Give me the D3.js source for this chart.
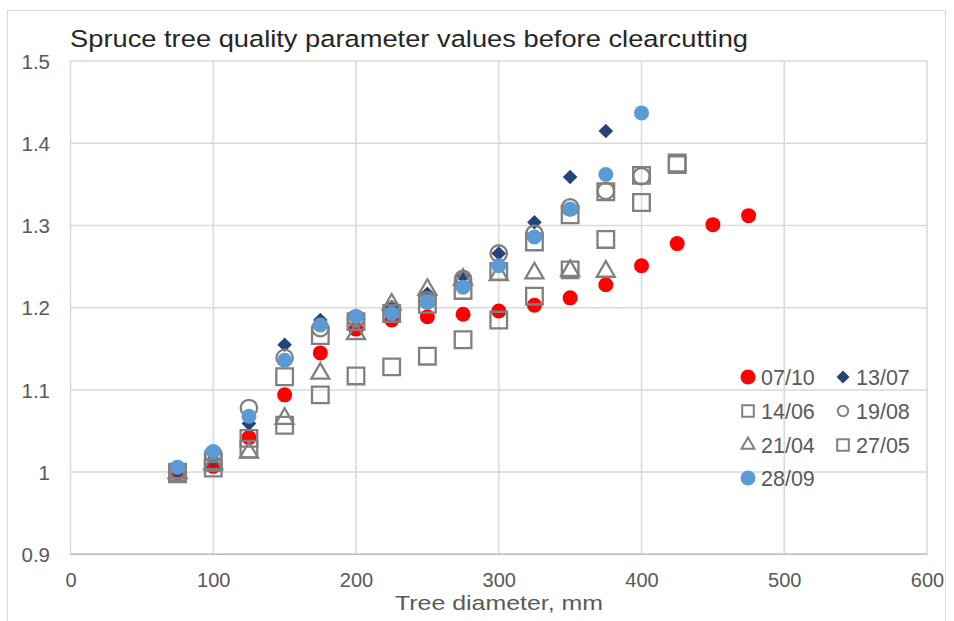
<!DOCTYPE html>
<html><head><meta charset="utf-8">
<script src="https://cdn.jsdelivr.net/npm/d3@7"></script>
<style>
body{margin:0;background:#fff;}
svg{display:block;font-family:"Liberation Sans",Arial,sans-serif;}
</style></head>
<body><svg id="c" width="954" height="621"></svg>
<script>
const diameters = [75,100,125,150,175,200,225,250,275,300,325,350,375,400,425,450,475];
const s0710 = [0.999,1.007,1.042,1.094,1.145,1.174,1.185,1.189,1.192,1.196,1.203,1.212,1.228,1.251,1.278,1.301,1.312];
const s1307 = [1.001,1.015,1.059,1.155,1.185,1.190,1.201,1.217,1.238,1.266,1.304,1.359,1.415];
const s1406 = [1.000,1.012,1.041,1.116,1.166,1.183,1.193,1.204,1.221,1.244,1.280,1.313,1.341,1.361,1.374];
const s1908 = [1.002,1.022,1.078,1.139,1.175,1.187,1.197,1.209,1.235,1.266,1.290,1.322,1.342,1.360];
const s2104 = [0.999,1.010,1.024,1.065,1.120,1.168,1.204,1.222,1.234,1.240,1.242,1.245,1.244];
const s2705 = [0.998,1.005,1.028,1.057,1.094,1.117,1.128,1.141,1.161,1.185,1.214,1.246,1.283,1.328,1.376];
const s2809 = [1.006,1.025,1.068,1.136,1.179,1.189,1.193,1.207,1.225,1.251,1.286,1.320,1.362,1.437];
const seriesNames = ["07/10","13/07","14/06","19/08","21/04","27/05","28/09"];
const xTicks = [0,100,200,300,400,500,600];
const yTicks = [0.9,1.0,1.1,1.2,1.3,1.4,1.5];
const yTickLabels = ["0.9","1","1.1","1.2","1.3","1.4","1.5"];
const titleText = "Spruce tree quality parameter values before clearcutting";
const xTitle = "Tree diameter, mm";

const gray = "#808080";
const styles = [
  {type:"circle", fill:"#ff0000", stroke:"none", size:7.5, lsize:7.5},
  {type:"diamond", fill:"#264478", stroke:"none", size:7.3, lsize:6.5},
  {type:"square", fill:"none", stroke:gray, size:8.3, lsize:5.8},
  {type:"circle", fill:"none", stroke:gray, size:8.2, lsize:5.2},
  {type:"triangle", fill:"none", stroke:gray, size:9, lsize:6.5},
  {type:"square", fill:"none", stroke:gray, size:8.3, lsize:5.8},
  {type:"circle", fill:"#5b9bd5", stroke:"none", size:7.5, lsize:7.5}
];
const allValues = [s0710,s1307,s1406,s1908,s2104,s2705,s2809];
const series = seriesNames.map((n,i)=>({name:n, style:styles[i],
  pts: allValues[i].map((v,j)=>({x:diameters[j], y:v}))}));

const svg = d3.select("#c");
const x = d3.scaleLinear().domain([0,600]).range([70.5,927]);
const y = d3.scaleLinear().domain([0.9,1.5]).range([554.3,61.1]);

// outer frame
svg.append("rect").attr("x",7.5).attr("y",10.5).attr("width",938).attr("height",640)
  .attr("fill","#fff").attr("stroke","#d9d9d9").attr("stroke-width",1);

// gridlines
svg.append("g").selectAll("line").data(yTicks).join("line")
  .attr("x1",x(0)).attr("x2",x(600)).attr("y1",d=>y(d)).attr("y2",d=>y(d))
  .attr("stroke","#d9d9d9").attr("stroke-width",1.5);
svg.append("g").selectAll("line").data(xTicks).join("line")
  .attr("y1",y(0.9)).attr("y2",y(1.5)).attr("x1",d=>x(d)).attr("x2",d=>x(d))
  .attr("stroke","#d9d9d9").attr("stroke-width",1.5);
svg.append("line").attr("x1",x(0)).attr("x2",x(600)).attr("y1",y(0.9)).attr("y2",y(0.9))
  .attr("stroke","#bfbfbf").attr("stroke-width",1.5);

// axes labels
const yAxis = d3.axisLeft(y).tickValues(yTicks).tickFormat((d,i)=>yTickLabels[i]).tickSize(0).tickPadding(0);
const gy = svg.append("g").attr("transform","translate(50,0)").call(yAxis);
gy.select(".domain").remove();
gy.selectAll("text").attr("font-size",20.5).attr("fill","#595959")
  .attr("font-family","Liberation Sans, Arial, sans-serif").attr("dy","0.35em").attr("dx",0);

const xAxis = d3.axisBottom(x).tickValues(xTicks).tickFormat(d3.format("d")).tickSize(0).tickPadding(0);
const gx = svg.append("g").attr("transform","translate(0,573)").call(xAxis);
gx.select(".domain").remove();
gx.selectAll("text").attr("font-size",20).attr("fill","#595959")
  .attr("font-family","Liberation Sans, Arial, sans-serif").attr("dy","0.71em");

// titles
svg.append("text").attr("x",70).attr("y",47).attr("font-size",24.5).attr("fill","#262626")
  .attr("textLength",678).attr("lengthAdjust","spacingAndGlyphs").text(titleText);
svg.append("text").attr("x",499).attr("y",610).attr("text-anchor","middle").attr("font-size",21)
  .attr("fill","#595959").attr("textLength",208).attr("lengthAdjust","spacingAndGlyphs").text(xTitle);

function symPath(type, r){
  if(type==="circle") return d3.symbol(d3.symbolCircle, Math.PI*r*r)();
  if(type==="square") return d3.symbol(d3.symbolSquare, 4*r*r)();
  if(type==="diamond") return d3.symbol(d3.symbolSquare, 2*r*r)();
  if(type==="triangle"){ const w=2*r; return d3.symbol(d3.symbolTriangle, Math.sqrt(3)/4*w*w)(); }
}
function rot(type){ return type==="diamond" ? " rotate(45)" : ""; }

// markers
series.forEach(s=>{
  const st = s.style;
  svg.append("g").selectAll("path").data(s.pts).join("path")
    .attr("d", symPath(st.type, st.size))
    .attr("transform", d=>`translate(${x(d.x)},${y(d.y)})${rot(st.type)}`)
    .attr("fill", st.fill).attr("stroke", st.stroke).attr("stroke-width", 2.3);
});

// legend
const legPos = [[748,377],[843,377],[748,411],[843,411],[748,445],[843,445],[748,478]];
const lg = svg.append("g");
series.forEach((s,i)=>{
  const st = s.style; const [lx,ly] = legPos[i];
  lg.append("path").attr("d", symPath(st.type, st.lsize))
    .attr("transform", `translate(${lx},${ly})${rot(st.type)}`)
    .attr("fill", st.fill).attr("stroke", st.stroke).attr("stroke-width", 2);
  lg.append("text").attr("x", lx+13).attr("y", ly).attr("dy","0.36em")
    .attr("font-size",21.5).attr("fill","#595959").text(s.name);
});
</script></body></html>
